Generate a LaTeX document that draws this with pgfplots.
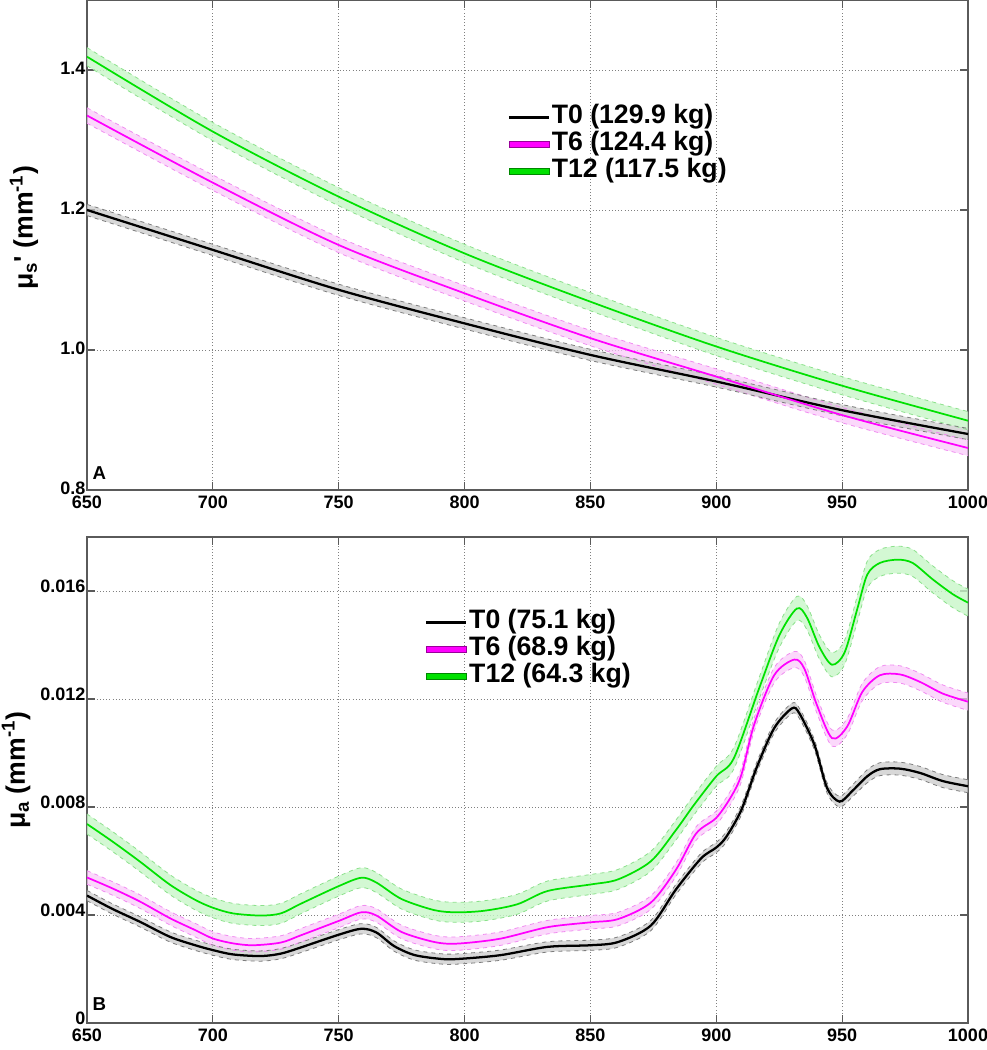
\documentclass[border=0pt]{standalone}
\usepackage{fontspec}
\setmainfont{Liberation Sans}
\usepackage{pgfplots}
\pgfplotsset{compat=1.18}
\usepackage{pgfplotstable}
\usepgfplotslibrary{fillbetween}

\definecolor{cgreen}{RGB}{0,225,0}
\definecolor{cmag}{RGB}{255,0,255}
\definecolor{bgreen}{RGB}{200,246,200}
\definecolor{bmag}{RGB}{250,200,250}
\definecolor{bgray}{RGB}{200,200,200}
\definecolor{egreen}{RGB}{140,225,140}
\definecolor{emag}{RGB}{240,140,240}
\definecolor{egray}{RGB}{125,125,125}
\definecolor{axgray}{RGB}{90,90,90}

% Panel A
\pgfplotstableread{
x y sd
650 1.200 0.008
700 1.143 0.008
750 1.086 0.008
800 1.038 0.008
850 0.993 0.008
900 0.955 0.008
950 0.914 0.008
1000 0.880 0.008
}\sAk
\pgfplotstableread{
x y sd
650 1.335 0.011
700 1.239 0.011
750 1.150 0.011
800 1.081 0.011
850 1.017 0.011
900 0.962 0.011
950 0.907 0.011
1000 0.860 0.011
}\sAm
\pgfplotstableread{
x y sd
650 1.419 0.013
700 1.312 0.013
750 1.219 0.013
800 1.138 0.013
850 1.069 0.013
900 1.005 0.013
950 0.949 0.013
1000 0.899 0.013
}\sAg

% Panel B
\pgfplotstableread{
x y sd
650 0.00472 0.00019
660 0.00423 0.00019
671 0.00375 0.00019
683 0.00319 0.00019
693 0.00288 0.00019
700 0.00270 0.00019
708 0.00254 0.00019
719 0.00248 0.00019
727 0.00257 0.00019
735 0.00280 0.00019
750 0.00327 0.00019
759 0.00349 0.00019
765 0.00335 0.00019
772 0.00285 0.00019
780 0.00252 0.00019
790 0.00238 0.00019
797 0.00237 0.00019
814 0.00251 0.00019
833 0.00282 0.00019
850 0.00288 0.00019
861 0.00300 0.00019
874 0.00361 0.00019
884 0.00495 0.00019
894 0.00610 0.00019
900 0.00650 0.00019
904 0.00690 0.00019
910 0.00790 0.00019
916 0.00945 0.00019
923 0.01092 0.00019
930 0.01165 0.00019
933 0.01147 0.00019
939 0.01030 0.00019
944 0.00871 0.00019
949 0.00820 0.00020
954 0.00859 0.00022
960 0.00914 0.00024
965 0.00940 0.00024
973 0.00942 0.00024
981 0.00926 0.00024
990 0.00896 0.00024
1000 0.00877 0.00024
}\sBk
\pgfplotstableread{
x y sd
650 0.00539 0.00025
660 0.00499 0.00025
671 0.00450 0.00025
683 0.00388 0.00025
693 0.00344 0.00025
700 0.00313 0.00025
708 0.00295 0.00025
716 0.00288 0.00025
727 0.00298 0.00025
735 0.00325 0.00025
750 0.00378 0.00025
759 0.00410 0.00025
765 0.00398 0.00025
775 0.00337 0.00025
788 0.00300 0.00025
797 0.00294 0.00025
814 0.00312 0.00025
833 0.00355 0.00025
850 0.00373 0.00025
861 0.00385 0.00025
874 0.00446 0.00025
884 0.00568 0.00025
892 0.00702 0.00025
900 0.00760 0.00025
906 0.00840 0.00025
910 0.00920 0.00025
915 0.01104 0.00025
923 0.01288 0.00028
931 0.01346 0.00030
935 0.01312 0.00030
940 0.01177 0.00030
946 0.01055 0.00030
952 0.01098 0.00030
958 0.01226 0.00032
965 0.01288 0.00032
973 0.01291 0.00032
981 0.01263 0.00032
990 0.01220 0.00032
1000 0.01190 0.00032
}\sBm
\pgfplotstableread{
x y sd
650 0.00737 0.00037
660 0.00673 0.00037
671 0.00598 0.00037
683 0.00512 0.00037
693 0.00456 0.00037
700 0.00427 0.00037
708 0.00406 0.00037
719 0.00398 0.00037
727 0.00406 0.00037
735 0.00442 0.00037
750 0.00507 0.00037
759 0.00538 0.00037
765 0.00520 0.00037
775 0.00459 0.00037
788 0.00418 0.00037
797 0.00410 0.00037
808 0.00416 0.00037
821 0.00440 0.00037
833 0.00489 0.00037
850 0.00513 0.00037
861 0.00532 0.00037
874 0.00599 0.00037
884 0.00715 0.00037
891 0.00806 0.00037
900 0.00914 0.00037
907 0.00981 0.00040
917 0.01239 0.00040
925 0.01435 0.00045
932 0.01535 0.00045
936 0.01502 0.00045
941 0.01392 0.00045
946 0.01327 0.00045
951 0.01373 0.00045
956 0.01533 0.00048
960 0.01661 0.00050
965 0.01704 0.00050
972 0.01716 0.00050
978 0.01704 0.00050
986 0.01643 0.00050
994 0.01588 0.00050
1000 0.01557 0.00050
}\sBg

\pgfplotsset{
  common/.style={
    scale only axis, width=660.75pt,
    xmin=650, xmax=1000, xtick={650,700,...,1000},
    /pgf/number format/1000 sep={},
    grid=major,
    major grid style={dotted, line width=0.6pt, gray},
    axis line style={axgray, line width=0.9pt},
    tick style={axgray, line width=0.9pt},
    tick align=inside, major tick length=6pt,
    tick label style={font=\fontsize{13.5}{15}\selectfont\bfseries},
    /pgf/number format/assume math mode=true,
    yticklabel style={inner xsep=1pt, yshift=1.5pt},
    xticklabel style={inner ysep=4.5pt},
    ylabel style={font=\fontsize{20}{22}\selectfont\bfseries, rotate=0, anchor=south},
    legend cell align=left,
    clip=true,
  },
  lk/.style={black, line width=1.7pt, smooth},
  lm/.style={cmag, line width=1.3pt, smooth},
  lg/.style={cgreen, line width=1.3pt, smooth},
  ek/.style={egray, dashed, line width=0.6pt, smooth, forget plot},
  em/.style={emag, dashed, line width=0.6pt, smooth, forget plot},
  eg/.style={egreen, dashed, line width=0.6pt, smooth, forget plot},
  limk/.style={legend image code/.code={\draw[black, line width=2.4pt] (#1,0pt) -- ++(30pt,0pt);}},
  limm/.style={legend image code/.code={\draw[fill=cmag, draw=cmag!60!black, line width=0.5pt] (#1,-2.2pt) rectangle ++(30pt,4.4pt);}},
  limg/.style={legend image code/.code={\draw[fill=cgreen, draw=cgreen!60!black, line width=0.5pt] (#1,-2.2pt) rectangle ++(30pt,4.4pt);}},
}

\begin{document}
\begin{tikzpicture}
\begin{axis}[common,
  at={(0,0)}, anchor=north west, height=367.5pt,
  ymin=0.8, ymax=1.5, ytick={0.8,1.0,1.2,1.4}, yticklabels={0.8,1.0,1.2,1.4},
  ylabel={μ\textsubscript{s}\textquotesingle\ (mm\textsuperscript{-1})},
  ylabel style={at={(axis description cs:-0.050,0.535)}},
  legend style={at={(rel axis cs:0.4767,0.789)}, anchor=north west, draw=none, fill=none,
    font=\fontsize{20}{22}\selectfont\bfseries, inner sep=0pt, row sep=0pt,
    nodes={inner sep=1pt, text height=14pt, text depth=4.25pt}},
]
\addplot[name path=gu, eg] table[x=x, y expr=\thisrow{y}+\thisrow{sd}] {\sAg};
\addplot[name path=gl, eg] table[x=x, y expr=\thisrow{y}-\thisrow{sd}] {\sAg};
\addplot[bgreen, fill opacity=0.8, forget plot] fill between[of=gu and gl];
\addplot[name path=mu, em] table[x=x, y expr=\thisrow{y}+\thisrow{sd}] {\sAm};
\addplot[name path=ml, em] table[x=x, y expr=\thisrow{y}-\thisrow{sd}] {\sAm};
\addplot[bmag, fill opacity=0.7, forget plot] fill between[of=mu and ml];
\addplot[name path=ku, ek] table[x=x, y expr=\thisrow{y}+\thisrow{sd}] {\sAk};
\addplot[name path=kl, ek] table[x=x, y expr=\thisrow{y}-\thisrow{sd}] {\sAk};
\addplot[bgray, fill opacity=0.7, forget plot] fill between[of=ku and kl];
\addplot[lk, limk=0pt] table[x=x, y=y] {\sAk};
\addlegendentry{T0 (129.9 kg)}
\addplot[lm, limm=0pt] table[x=x, y=y] {\sAm};
\addlegendentry{T6 (124.4 kg)}
\addplot[lg, limg=0pt] table[x=x, y=y] {\sAg};
\addlegendentry{T12 (117.5 kg)}
\node[anchor=south west, font=\fontsize{14}{16}\selectfont\bfseries, inner sep=0pt] at ([xshift=4pt, yshift=7.5pt]rel axis cs:0,0) {A};
\end{axis}

\begin{axis}[common,
  at={(0,-402.75pt)}, anchor=north west, height=364.5pt,
  ymin=0, ymax=0.018, ytick={0,0.004,0.008,0.012,0.016},
  yticklabels={0,0.004,0.008,0.012,0.016}, scaled y ticks=false,
  yticklabel style={yshift=2pt},
  ylabel={μ\textsubscript{a} (mm\textsuperscript{-1})},
  ylabel style={at={(axis description cs:-0.059,0.52)}},
  legend style={at={(rel axis cs:0.383,0.853)}, anchor=north west, draw=none, fill=none,
    font=\fontsize{20}{22}\selectfont\bfseries, inner sep=0pt, row sep=0pt,
    nodes={inner sep=1pt, text height=14pt, text depth=4.25pt}},
]
\addplot[name path=gu, eg] table[x=x, y expr=\thisrow{y}+\thisrow{sd}] {\sBg};
\addplot[name path=gl, eg] table[x=x, y expr=\thisrow{y}-\thisrow{sd}] {\sBg};
\addplot[bgreen, fill opacity=0.8, forget plot] fill between[of=gu and gl];
\addplot[name path=mu, em] table[x=x, y expr=\thisrow{y}+\thisrow{sd}] {\sBm};
\addplot[name path=ml, em] table[x=x, y expr=\thisrow{y}-\thisrow{sd}] {\sBm};
\addplot[bmag, fill opacity=0.7, forget plot] fill between[of=mu and ml];
\addplot[name path=ku, ek] table[x=x, y expr=\thisrow{y}+\thisrow{sd}] {\sBk};
\addplot[name path=kl, ek] table[x=x, y expr=\thisrow{y}-\thisrow{sd}] {\sBk};
\addplot[bgray, fill opacity=0.7, forget plot] fill between[of=ku and kl];
\addplot[lk, limk=-6pt] table[x=x, y=y] {\sBk};
\addlegendentry{T0 (75.1 kg)}
\addplot[lm, limm=-6pt] table[x=x, y=y] {\sBm};
\addlegendentry{T6 (68.9 kg)}
\addplot[lg, limg=-6pt] table[x=x, y=y] {\sBg};
\addlegendentry{T12 (64.3 kg)}
\node[anchor=south west, font=\fontsize{14}{16}\selectfont\bfseries, inner sep=0pt] at ([xshift=4pt, yshift=9pt]rel axis cs:0,0) {B};
\end{axis}
\pgfresetboundingbox
\path (-65.25pt,0pt) rectangle (675pt,-787.5pt);
\end{tikzpicture}
\end{document}
